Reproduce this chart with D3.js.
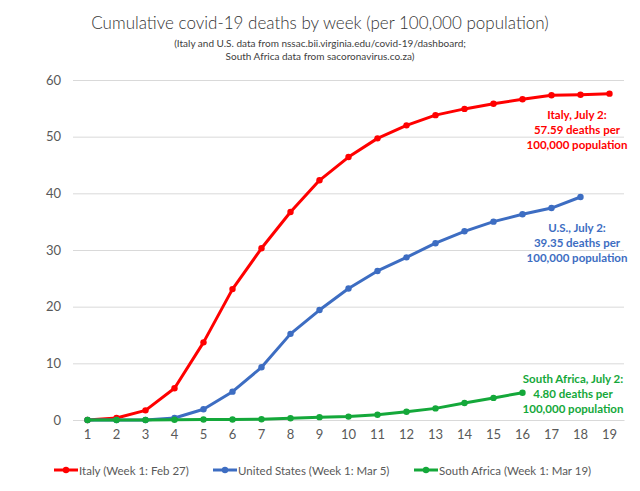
<!DOCTYPE html>
<html>
<head>
<meta charset="utf-8">
<script src="https://cdn.jsdelivr.net/npm/d3@7"></script>
<style>
  body { margin: 0; background: #fff; }
</style>
</head>
<body>
<div id="chart"></div>
<script>
// weeks on the x axis
var weeks = d3.range(1, 20);

// cumulative deaths per 100,000
var italyValues = [0, 0.35, 1.7, 5.6, 13.7, 23.1, 30.3, 36.7, 42.3, 46.4,
                   49.7, 52.0, 53.8, 54.9, 55.8, 56.6, 57.3, 57.4, 57.59];
var usValues = [0, 0, 0, 0.35, 1.9, 5.0, 9.3, 15.2, 19.4, 23.2,
                26.3, 28.7, 31.2, 33.3, 35.0, 36.3, 37.4, 39.35];
var saValues = [0, 0, 0, 0.05, 0.1, 0.1, 0.12, 0.3, 0.5, 0.6,
                0.93, 1.46, 2.05, 3.0, 3.9, 4.8];

var seriesNames = ["Italy (Week 1: Feb 27)", "United States (Week 1: Mar 5)", "South Africa (Week 1: Mar 19)"];
var yTicks = [0, 10, 20, 30, 40, 50, 60];

var titleText = "Cumulative covid-19 deaths by week (per 100,000 population)";
var subtitleLines = ["(Italy and U.S. data from nssac.bii.virginia.edu/covid-19/dashboard;",
                     "South Africa data from sacoronavirus.co.za)"];

var italyNote = ["Italy, July 2:", "57.59 deaths per", "100,000 population"];
var usNote = ["U.S., July 2:", "39.35 deaths per", "100,000 population"];
var saNote = ["South Africa, July 2:", "4.80 deaths per", "100,000 population"];

var drawChart = function(){

  var fontFamily = "Lato, 'Open Sans', sans-serif";
  var colors = ["#ff0000", "#3d6dc2", "#14a83a"];
  var allSeries = [italyValues, usValues, saValues];

  const width = 640;
  const height = 491;

  var svg = d3.select("#chart")
    .append("svg")
    .attr("width", width)
    .attr("height", height)
    .style("font-family", fontFamily);

  //scales
  var x = d3.scaleBand()
    .domain(weeks)
    .range([73, 624]);

  var y = d3.scaleLinear()
    .domain([0, 60])
    .range([420, 80]);

  var cx = function(i){ return x(weeks[i]) + x.bandwidth() / 2; };

  //gridlines + y labels
  var yAxis = svg.append("g")
    .attr("transform", "translate(73,0)")
    .call(d3.axisLeft(y).tickValues(yTicks).tickSize(-551).tickPadding(12));
  yAxis.select(".domain").remove();
  yAxis.selectAll(".tick line").attr("stroke", "#d9d9d9").attr("stroke-width", 1);
  yAxis.selectAll(".tick text")
    .attr("fill", "#595959")
    .style("font-size", "13px")
    .style("font-family", fontFamily);

  //x axis
  var xAxis = svg.append("g")
    .attr("transform", "translate(0,420)")
    .call(d3.axisBottom(x).tickSize(0).tickPadding(10));
  xAxis.select(".domain").attr("stroke", "#d9d9d9");
  xAxis.selectAll(".tick text")
    .attr("fill", "#595959")
    .style("font-size", "13px")
    .style("font-family", fontFamily);

  //lines and markers, later series drawn on top
  var line = d3.line()
    .x(function(d, i){ return cx(i); })
    .y(function(d){ return y(d); });

  [0, 1, 2].forEach(function(s){
    var g = svg.append("g");
    g.append("path")
      .datum(allSeries[s])
      .attr("fill", "none")
      .attr("stroke", colors[s])
      .attr("stroke-width", 3)
      .attr("stroke-linejoin", "round")
      .attr("d", line);
    g.selectAll("circle")
      .data(allSeries[s])
      .enter().append("circle")
      .attr("cx", function(d, i){ return cx(i); })
      .attr("cy", function(d){ return y(d); })
      .attr("r", 3.2)
      .attr("fill", colors[s]);
  });

  //title
  svg.append("text")
    .attr("x", 320)
    .attr("y", 29)
    .attr("text-anchor", "middle")
    .attr("fill", "#333")
    .style("font-size", "17px")
    .style("font-weight", "300")
    .text(titleText);

  svg.selectAll(".sub")
    .data(subtitleLines)
    .enter().append("text")
    .attr("class", "sub")
    .attr("x", 320)
    .attr("y", function(d, i){ return 47 + i * 13; })
    .attr("text-anchor", "middle")
    .attr("fill", "#404040")
    .style("font-size", "10px")
    .text(function(d){ return d; });

  //notes
  var addNote = function(lines, xc, y0, color){
    svg.append("g").selectAll("text")
      .data(lines)
      .enter().append("text")
      .attr("x", xc)
      .attr("y", function(d, i){ return y0 + i * 15; })
      .attr("text-anchor", "middle")
      .attr("fill", color)
      .style("font-size", "11.5px")
      .style("font-weight", "bold")
      .text(function(d){ return d; });
  };
  addNote(italyNote, 577, 119, colors[0]);
  addNote(usNote, 577, 232, colors[1]);
  addNote(saNote, 573, 383, colors[2]);

  //legend
  var legendX = [54, 213, 414];
  var legend = svg.append("g");
  seriesNames.forEach(function(name, i){
    var lg = legend.append("g").attr("transform", "translate(" + legendX[i] + ",470)");
    lg.append("line")
      .attr("x1", 0).attr("x2", 24)
      .attr("stroke", colors[i])
      .attr("stroke-width", 3);
    lg.append("circle")
      .attr("cx", 12).attr("r", 3.2)
      .attr("fill", colors[i]);
    lg.append("text")
      .attr("x", 25)
      .attr("y", 4.5)
      .attr("fill", "#595959")
      .style("font-size", "11.5px")
      .text(name);
  });
};

drawChart();
</script>
</body>
</html>
